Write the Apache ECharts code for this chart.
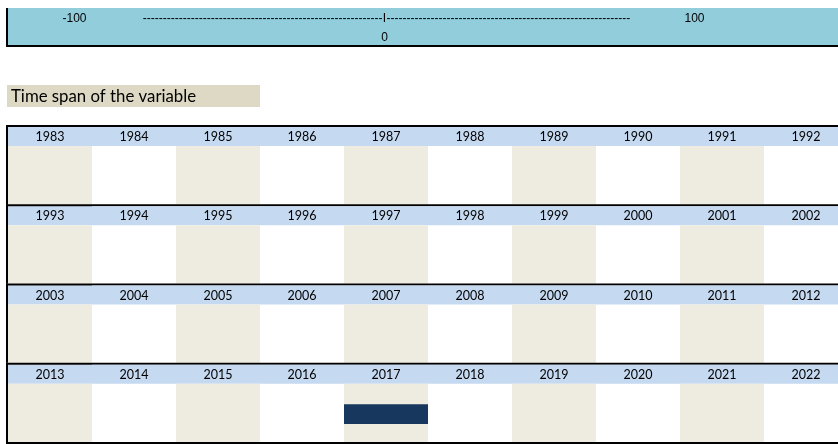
<!DOCTYPE html>
<html><head><meta charset="utf-8">
<script src="https://cdn.jsdelivr.net/npm/echarts@6/dist/echarts.min.js"></script>
<style>html,body{margin:0;padding:0;background:#fff}#c{width:838px;height:444px}</style>
</head><body><div id="c"></div>
<script>
// ---- data ----
const scaleTicks = [-100, 0, 100];
const scaleMarker = 0;
const titleText = 'Time span of the variable';
const rowLabels = ['1983-1992', '1993-2002', '2003-2012', '2013-2022'];
const colLabels = ['0','1','2','3','4','5','6','7','8','9'];
const years = [
  1983,1984,1985,1986,1987,1988,1989,1990,1991,1992,
  1993,1994,1995,1996,1997,1998,1999,2000,2001,2002,
  2003,2004,2005,2006,2007,2008,2009,2010,2011,2012,
  2013,2014,2015,2016,2017,2018,2019,2020,2021,2022
];
const spanStart = [2017];
const spanEnd = [2017];

// ---- styles ----
const C = {
  band: '#92CDDC', header: '#C5D9F1', shade: '#EEECE1', titleBg: '#DDD9C4',
  bar: '#17375E', line: '#000000', text: '#000000'
};
const calibri = 'Lato, "Open Sans", sans-serif';
const arial = '"Liberation Sans", Arial, sans-serif';
const HEADER_H = 19, LINE_W = 2;
const nCols = colLabels.length, nRows = rowLabels.length;

const chart = echarts.init(document.getElementById('c'), null, {renderer: 'canvas'});

const cellData = years.map((y, i) => [i % nCols, Math.floor(i / nCols), y]);
const spanData = spanStart.map((s, i) => [s, spanEnd[i]]);

function cellRenderer(params, api) {
  const col = api.value(0), row = api.value(1), yr = api.value(2);
  const c = api.coord([col, row]);
  const s = api.size([1, 1]);
  const w = s[0], h = s[1];
  const x0 = c[0] - w / 2, y0 = c[1] - h / 2;
  const cs = params.coordSys;
  const children = [];
  children.push({type: 'rect', shape: {x: x0, y: y0 + LINE_W, width: w, height: HEADER_H}, style: {fill: C.header}});
  if (col % 2 === 0) {
    children.push({type: 'rect', shape: {x: x0, y: y0 + LINE_W + HEADER_H, width: w, height: h - LINE_W - HEADER_H}, style: {fill: C.shade}});
  }
  children.push({type: 'text', x: c[0], y: y0 + LINE_W + HEADER_H / 2 + 0.5,
    style: {text: String(yr), align: 'center', verticalAlign: 'middle', font: '12.5px ' + calibri, fill: C.text}});
  if (col === 0) {
    children.push({type: 'rect', shape: {x: x0 - LINE_W, y: y0, width: cs.width + LINE_W, height: LINE_W}, style: {fill: C.line}});
    const last = row === nRows - 1;
    children.push({type: 'rect', shape: {x: x0 - LINE_W, y: y0, width: LINE_W, height: h + (last ? LINE_W : 0)}, style: {fill: C.line}});
    if (last) {
      children.push({type: 'rect', shape: {x: x0 - LINE_W, y: y0 + h, width: cs.width + LINE_W, height: LINE_W}, style: {fill: C.line}});
    }
  }
  return {type: 'group', children};
}

function spanRenderer(params, api) {
  const s0 = api.value(0), s1 = api.value(1);
  const children = [];
  for (let k = years.indexOf(s0); k >= 0 && k <= years.indexOf(s1); k++) {
    const col = k % nCols, row = Math.floor(k / nCols);
    const c = api.coord([col, row]);
    const s = api.size([1, 1]);
    const w = s[0], h = s[1];
    const bodyTop = c[1] - h / 2 + LINE_W + HEADER_H;
    const bodyH = h - LINE_W - HEADER_H;
    children.push({type: 'rect', shape: {x: c[0] - w / 2, y: bodyTop + bodyH * 0.35, width: w, height: bodyH * 0.34}, style: {fill: C.bar}});
  }
  return {type: 'group', children};
}

function scaleRenderer(params, api) {
  const v = api.value(0);
  const x = api.coord([v, 0])[0];
  const cs = params.coordSys;
  const children = [];
  const f = '12px ' + arial;
  if (v === scaleMarker) {
    children.push({type: 'text', x: x - 2, y: cs.y + 10.5, style: {text: '-'.repeat(60), align: 'right', verticalAlign: 'middle', font: f, fill: C.text}});
    children.push({type: 'text', x: x, y: cs.y + 10.5, style: {text: 'I', align: 'center', verticalAlign: 'middle', font: f, fill: C.text}});
    children.push({type: 'text', x: x + 2, y: cs.y + 10.5, style: {text: '-'.repeat(61), align: 'left', verticalAlign: 'middle', font: f, fill: C.text}});
    children.push({type: 'text', x: x, y: cs.y + 30, style: {text: String(v), align: 'center', verticalAlign: 'middle', font: f, fill: C.text}});
  } else {
    children.push({type: 'text', x: x, y: cs.y + 10.5, style: {text: String(v), align: 'center', verticalAlign: 'middle', font: f, fill: C.text}});
  }
  return {type: 'group', children};
}

chart.setOption({
  animation: false,
  backgroundColor: '#ffffff',
  graphic: [
    {type: 'rect', z: -10, shape: {x: 8, y: 8, width: 830, height: 37}, style: {fill: C.band}},
    {type: 'rect', z: -9, shape: {x: 6, y: 8, width: 2, height: 39}, style: {fill: C.line}},
    {type: 'rect', z: -9, shape: {x: 6, y: 45, width: 832, height: 2}, style: {fill: C.line}},
    {type: 'rect', z: -9, shape: {x: 7, y: 85, width: 253, height: 22}, style: {fill: C.titleBg}},
    {type: 'text', z: -8, x: 11, y: 96.5, style: {text: titleText, verticalAlign: 'middle', font: '16.8px ' + calibri, fill: C.text}}
  ],
  grid: [
    {left: 8, top: 125, width: 840, height: 317, outerBoundsMode: 'none', containLabel: false},
    {left: 74.5, top: 8, width: 620, height: 37, outerBoundsMode: 'none', containLabel: false}
  ],
  xAxis: [
    {gridIndex: 0, type: 'category', data: colLabels, show: false},
    {gridIndex: 1, type: 'value', min: -100, max: 100, show: false}
  ],
  yAxis: [
    {gridIndex: 0, type: 'category', data: rowLabels, inverse: true, show: false},
    {gridIndex: 1, type: 'value', min: 0, max: 1, show: false}
  ],
  series: [
    {type: 'custom', xAxisIndex: 0, yAxisIndex: 0, renderItem: cellRenderer, data: cellData, clip: false, silent: true},
    {type: 'custom', xAxisIndex: 0, yAxisIndex: 0, renderItem: spanRenderer, data: spanData, clip: false, silent: true, z: 3},
    {type: 'custom', xAxisIndex: 1, yAxisIndex: 1, renderItem: scaleRenderer, data: scaleTicks.map(v => [v, 0]), clip: false, silent: true}
  ]
});
</script></body></html>
